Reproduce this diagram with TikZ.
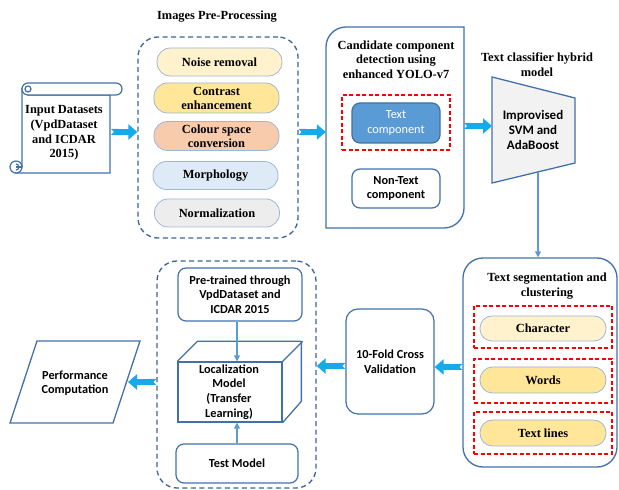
\documentclass[tikz,border=0pt]{standalone}
\usepackage{fontspec}
\setmainfont{Liberation Serif}
\newfontfamily\carl{Carlito}
\usetikzlibrary{arrows.meta,shapes.geometric}
\definecolor{bord}{RGB}{65,113,170}
\definecolor{dashblue}{RGB}{60,100,150}
\definecolor{arrcyan}{RGB}{20,170,235}
\definecolor{thinarr}{RGB}{91,155,213}
\definecolor{pillbord}{RGB}{155,183,217}
\definecolor{cYellowL}{RGB}{255,242,204}
\definecolor{cYellow}{RGB}{255,230,153}
\definecolor{cPeach}{RGB}{248,203,173}
\definecolor{cBlueL}{RGB}{222,235,247}
\definecolor{cGrey}{RGB}{237,237,237}
\definecolor{tcfill}{RGB}{91,155,213}
\definecolor{tcbord}{RGB}{65,113,156}
\tikzset{
  x=1pt,y=1pt,
  titletext/.style={font=\bfseries\fontsize{12.4}{14.6}\selectfont, align=center, inner sep=0},
  pill/.style={draw=pillbord, line width=0.8pt, rounded corners=13.5pt, minimum width=125pt, minimum height=28pt, font=\bfseries\fontsize{12.4}{14}\selectfont, align=center, inner sep=0},
  dashbox/.style={draw=dashblue, line width=1.3pt, dash pattern=on 5pt off 3.5pt, rounded corners=20pt, inner sep=0},
  reddash/.style={draw=red, line width=1.3pt, dash pattern=on 4pt off 2.5pt, inner sep=0},
  sansfont/.style={font=\carl\bfseries\fontsize{12.3}{14.6}\selectfont},
  sansbox/.style={draw=bord, line width=1.2pt, fill=white, rounded corners=8pt, sansfont, align=center, inner sep=0},
  blockarr/.style={draw=arrcyan, line width=6pt, {Triangle Cap[reversed]}-{Triangle[width=15pt,length=9pt]}},
  thinarrow/.style={draw=thinarr, line width=1.5pt, -{Triangle[width=6pt,length=6pt]}},
}
\begin{document}
\begin{tikzpicture}
\useasboundingbox (0,0) rectangle (619,490);

% ---------- Input datasets scroll ----------
\begin{scope}[draw=bord, line width=1.2pt]
  \filldraw[fill=white, draw=bord] (22,401) -- (22,323) -- (16,317) -- (110,317) -- (110,395) -- (28,395) -- cycle;
  \filldraw[fill=white, draw=bord] (28,407) -- (116,407) arc[start angle=90, end angle=-90, radius=6] -- (28,395) arc[start angle=-90, end angle=-270, radius=6];
  \draw[bord] (28,401) circle (3);
  \filldraw[fill=white, draw=bord] (16,323) circle (6);
  \draw[bord] (16,323) -- (22,323);
  \draw[bord] (16,320) arc[start angle=-90, end angle=90, radius=3];
\end{scope}
\node[titletext] (input) at (64,357) {Input Datasets\\(VpdDataset\\and ICDAR\\2015)};
\coordinate (inputE) at (111,358);

% ---------- Pre-processing ----------
\node[titletext] (pretitle) at (217,473) {Images Pre-Processing};
\node[dashbox, minimum width=160pt, minimum height=201pt] (pre) at (218,352.5) {};
\node[pill, fill=cYellowL] (noise) at (219.5,428) {Noise removal};
\node[pill, fill=cYellow, minimum height=30pt] (contrast) at (216.5,392) {Contrast\\enhancement};
\node[pill, fill=cPeach, minimum height=29pt] (colour) at (216.5,354) {Colour space\\conversion};
\node[pill, fill=cBlueL] (morph) at (215.5,314.5) {Morphology};
\node[pill, fill=cGrey] (norm) at (217,277) {Normalization};

\draw[blockarr] (inputE) -- (pre.west |- inputE);

% ---------- Candidate component detection ----------
\node[minimum width=138pt, minimum height=201pt, inner sep=0] (cand) at (395,362.5) {};
\draw[bord, line width=1.3pt, fill=white] (326,262) -- (326,443) arc[start angle=180, end angle=90, radius=20] -- (464,463) -- (464,282) arc[start angle=0, end angle=-90, radius=20] -- cycle;
\node[titletext] (candtitle) at (396,430.5) {Candidate component\\detection using\\enhanced YOLO-v7};
\node[reddash, minimum width=108pt, minimum height=55pt] (tcred) at (396,367.5) {};
\node[sansbox, fill=tcfill, draw=tcbord, text=white, font=\carl\fontsize{12.3}{14.6}\selectfont, minimum width=88pt, minimum height=40pt] (tc) at (396,367) {Text\\component};
\node[sansbox, minimum width=88pt, minimum height=39pt] (ntc) at (396,301.5) {Non-Text\\component};

\draw[blockarr] (pre.east |- inputE) -- (cand.west |- inputE);

% ---------- Text classifier hybrid model ----------
\node[titletext] (clstitle) at (537,425.5) {Text classifier hybrid\\model};
\filldraw[fill=cGrey!70!white, draw=bord, line width=1.3pt] (492,413) -- (575,392) -- (575,327) -- (492,307) -- cycle;
\node[font=\carl\bfseries\fontsize{13}{14.6}\selectfont, align=center, inner sep=0] (cls) at (533,360) {Improvised\\SVM and\\AdaBoost};
\coordinate (clsW) at (492,364);
\coordinate (clsB) at (538,318);

\draw[blockarr] (cand.east |- clsW) -- (clsW);

% ---------- Text segmentation ----------
\node[draw=bord, line width=1.3pt, rounded corners=20pt, minimum width=154pt, minimum height=209pt, inner sep=0] (seg) at (540,127.5) {};
\node[titletext] (segtitle) at (547,204) {Text segmentation and\\clustering};
\node[reddash, minimum width=138pt, minimum height=42pt] (r1) at (543,163) {};
\node[reddash, minimum width=138pt, minimum height=44pt] (r2) at (543,109) {};
\node[reddash, minimum width=138pt, minimum height=42pt] (r3) at (543,57) {};
\node[pill, fill=cYellowL, minimum width=126pt, minimum height=25pt, rounded corners=12pt] (char) at (543,161.5) {Character};
\node[pill, fill=cYellow, minimum width=126pt, minimum height=26pt, rounded corners=12.5pt] (words) at (543,110) {Words};
\node[pill, fill=cYellow, minimum width=126pt, minimum height=26pt, rounded corners=12.5pt] (lines) at (543,57) {Text lines};

\draw[thinarrow] (clsB) -- (clsB |- seg.north);

% ---------- 10-fold ----------
\node[sansbox, rounded corners=12pt, minimum width=88pt, minimum height=105pt] (fold) at (390,128.5) {10-Fold Cross\\Validation};
\draw[blockarr] (seg.west |- 0,123) -- (fold.east |- 0,123);

% ---------- Localization ----------
\node[dashbox, minimum width=159pt, minimum height=227pt] (loc) at (236.5,115.5) {};
\node[sansbox, minimum width=124pt, minimum height=53pt] (pretr) at (240,195.5) {Pre-trained through\\VpdDataset and\\ICDAR 2015};
\node[draw=bord, line width=1.3pt, fill=white, minimum width=104pt, minimum height=60pt, inner sep=0] (cube) at (230,98) {};
\draw[bord, line width=1.3pt, line join=round] (cube.north west) -- ++(20,20) -- ++(104,0) -- ++(0,-60) -- (cube.south east);
\draw[bord, line width=1.3pt] (cube.north east) -- ++(20,20);
\node[sansfont, align=center, inner sep=0] (loctext) at (229,98) {Localization\\Model\\(Transfer\\Learning)};
\node[sansbox, minimum width=122pt, minimum height=39pt] (test) at (237,26.5) {Test Model};
\draw[thinarrow] (pretr.south -| 237,0) -- (cube.north -| 237,0);
\draw[thinarrow] (test.north -| 237,0) -- (cube.south -| 237,0);

\draw[blockarr] (fold.west |- 0,124) -- (loc.east |- 0,124);

% ---------- Performance ----------
\draw[bord, line width=1.3pt, fill=white] (37,149) -- (140,149) -- (113,67) -- (10,67) -- cycle;
\node[sansfont, align=center, inner sep=0] (perf) at (75,107) {Performance\\Computation};
\coordinate (perfE) at (128,108);
\draw[blockarr] (loc.west |- perfE) -- (perfE);
\end{tikzpicture}
\end{document}
